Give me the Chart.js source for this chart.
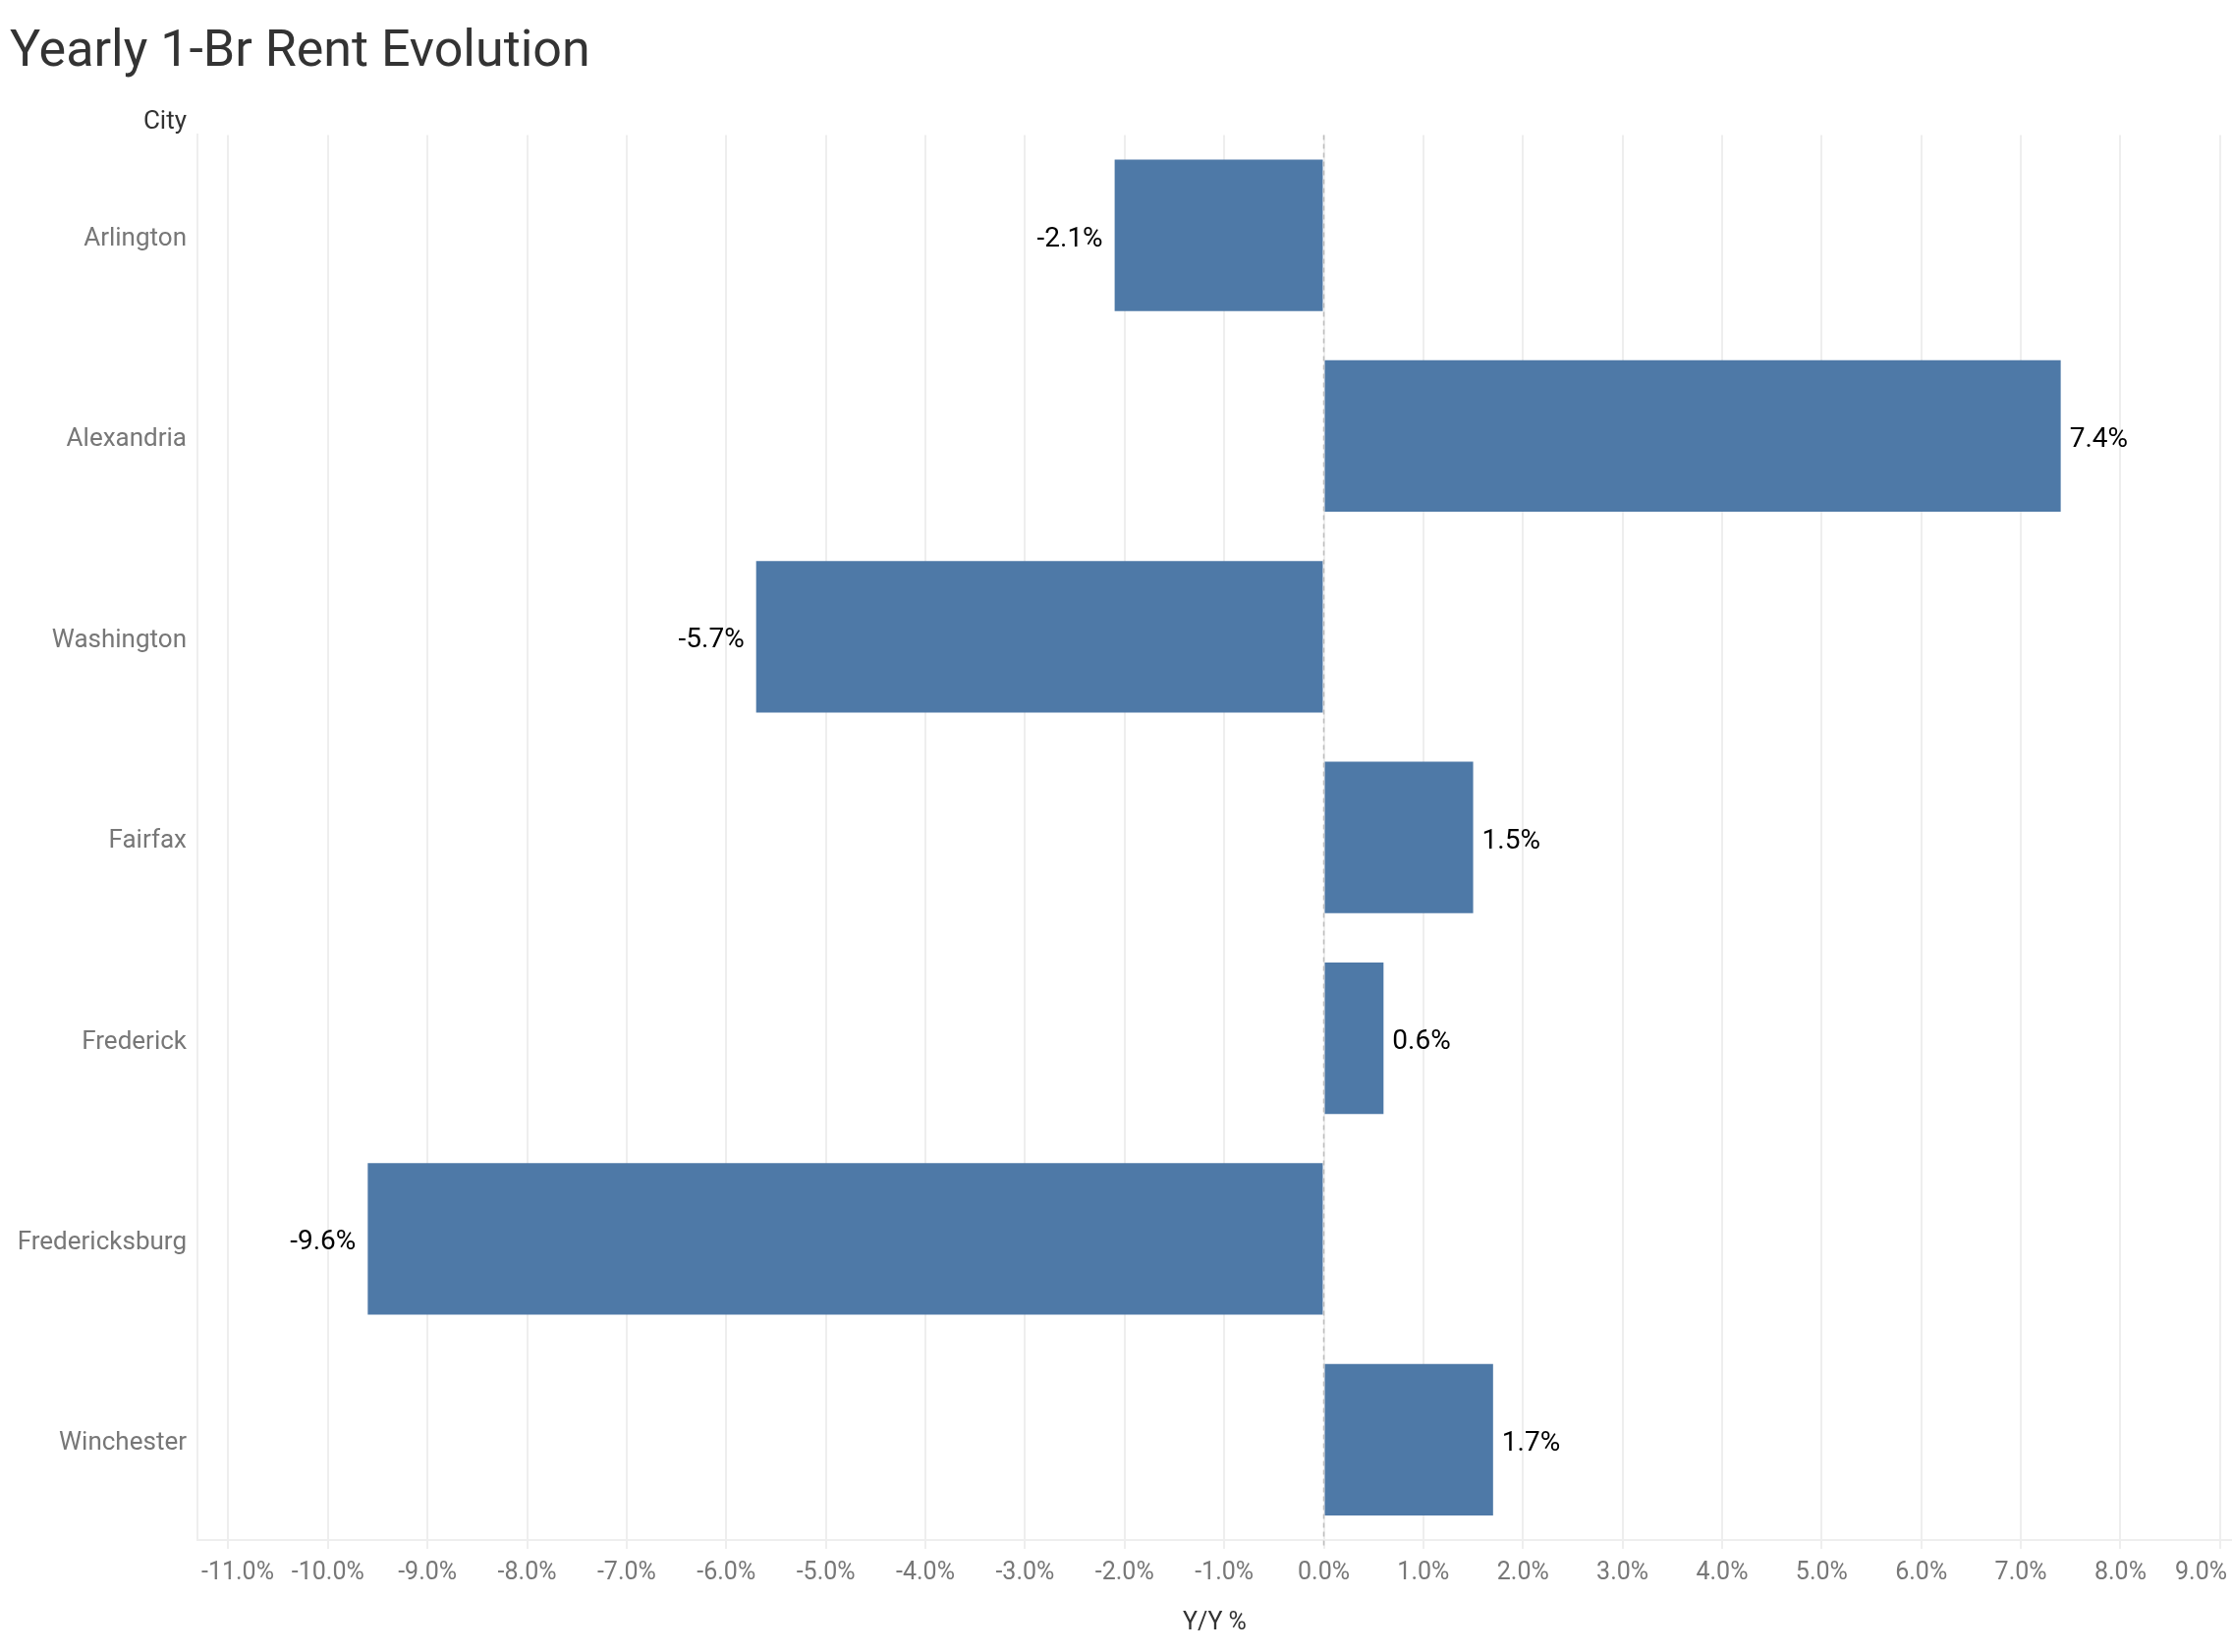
<!DOCTYPE html>
<html>
<head>
<meta charset="utf-8">
<title>Yearly 1-Br Rent Evolution</title>
<script src="https://cdn.jsdelivr.net/npm/chart.js@4.4.1/dist/chart.umd.min.js"></script>
<style>
  html, body { margin: 0; padding: 0; background: #fff; }
  #wrap { width: 2272px; height: 1682px; }
</style>
</head>
<body>
<div id="wrap"><canvas id="rent" width="2272" height="1682"></canvas></div>
<script>
const cities = ['Arlington', 'Alexandria', 'Washington', 'Fairfax', 'Frederick', 'Fredericksburg', 'Winchester'];
const yoyChange = [-2.1, 7.4, -5.7, 1.5, 0.6, -9.6, 1.7];
const xTicks = [-11, -10, -9, -8, -7, -6, -5, -4, -3, -2, -1, 0, 1, 2, 3, 4, 5, 6, 7, 8, 9];

const FONT = 'Roboto';
const GRID = '#eeeeee';

const pct = v => v.toFixed(1) + '%';

// extra bits Tableau draws: "City" header, dashed zero line, value labels
const extras = {
    id: 'extras',
    beforeDraw(chart) {
        // pull first / last x labels inside the plot
        const area = chart.chartArea;
        const items = chart.scales.x.getLabelItems(area);
        if (items.length) {
            items[0].options.textAlign = 'left';
            items[0].options.translation[0] = area.left + 4;
            const last = items[items.length - 1];
            last.options.textAlign = 'right';
            last.options.translation[0] = area.right - 5;
        }
    },
    afterDatasetsDraw(chart) {
        const ctx = chart.ctx;
        const area = chart.chartArea;
        const x0 = chart.scales.x.getPixelForValue(0);

        ctx.save();
        ctx.strokeStyle = '#bdbdbd';
        ctx.lineWidth = 1.5;
        ctx.setLineDash([5, 4]);
        ctx.beginPath();
        ctx.moveTo(x0, area.top);
        ctx.lineTo(x0, area.bottom + 9);
        ctx.stroke();
        ctx.restore();

        ctx.save();
        ctx.font = '28px ' + FONT;
        ctx.fillStyle = '#000';
        ctx.textBaseline = 'middle';
        chart.getDatasetMeta(0).data.forEach((bar, i) => {
            const v = yoyChange[i];
            if (v < 0) {
                ctx.textAlign = 'right';
                ctx.fillText(pct(v), bar.x - 12, bar.y + 4);
            } else {
                ctx.textAlign = 'left';
                ctx.fillText(pct(v), bar.x + 9, bar.y + 4);
            }
        });
        ctx.restore();

        ctx.save();
        ctx.font = '26px ' + FONT;
        ctx.fillStyle = '#333';
        ctx.textAlign = 'right';
        ctx.textBaseline = 'middle';
        ctx.fillText('City', area.left - 11, 124);
        ctx.restore();
    }
};

new Chart(document.getElementById('rent'), {
    type: 'bar',
    data: {
        labels: cities,
        datasets: [{
            label: 'Y/Y %',
            data: yoyChange,
            backgroundColor: '#4e79a7',
            borderWidth: 0,
            categoryPercentage: 1,
            barPercentage: 0.755
        }]
    },
    options: {
        indexAxis: 'y',
        responsive: false,
        animation: false,
        devicePixelRatio: 1,
        layout: { padding: { left: 10 } },
        scales: {
            x: {
                min: -11.31,
                max: 9.12,
                afterBuildTicks: axis => {
                    axis.ticks = xTicks.map(v => ({ value: v }));
                },
                afterFit: axis => {
                    axis.height = 114;
                    axis.paddingLeft = 0;
                    axis.paddingRight = 0;
                },
                grid: {
                    color: GRID,
                    lineWidth: 2,
                    drawTicks: true,
                    tickLength: 9,
                    tickColor: GRID
                },
                border: { display: true, color: GRID, width: 2 },
                ticks: {
                    autoSkip: false,
                    maxRotation: 0,
                    padding: 10,
                    color: '#777',
                    font: { family: FONT, size: 25 },
                    callback: v => pct(v)
                },
                title: {
                    display: true,
                    text: 'Y/Y %',
                    color: '#333',
                    font: { family: FONT, size: 25 },
                    padding: { top: 0, bottom: 14 }
                }
            },
            y: {
                afterFit: axis => {
                    axis.width = 191;
                },
                grid: { display: false, drawTicks: false },
                border: { display: true, color: GRID, width: 2 },
                ticks: {
                    padding: 11,
                    labelOffset: 4,
                    color: '#777',
                    font: { family: FONT, size: 26 }
                }
            }
        },
        plugins: {
            legend: { display: false },
            tooltip: { enabled: false },
            title: {
                display: true,
                text: 'Yearly 1-Br Rent Evolution',
                align: 'start',
                color: '#333',
                font: { family: FONT, size: 52, weight: 'normal' },
                padding: { top: 23, bottom: 52 }
            }
        }
    },
    plugins: [extras]
});
</script>
</body>
</html>
